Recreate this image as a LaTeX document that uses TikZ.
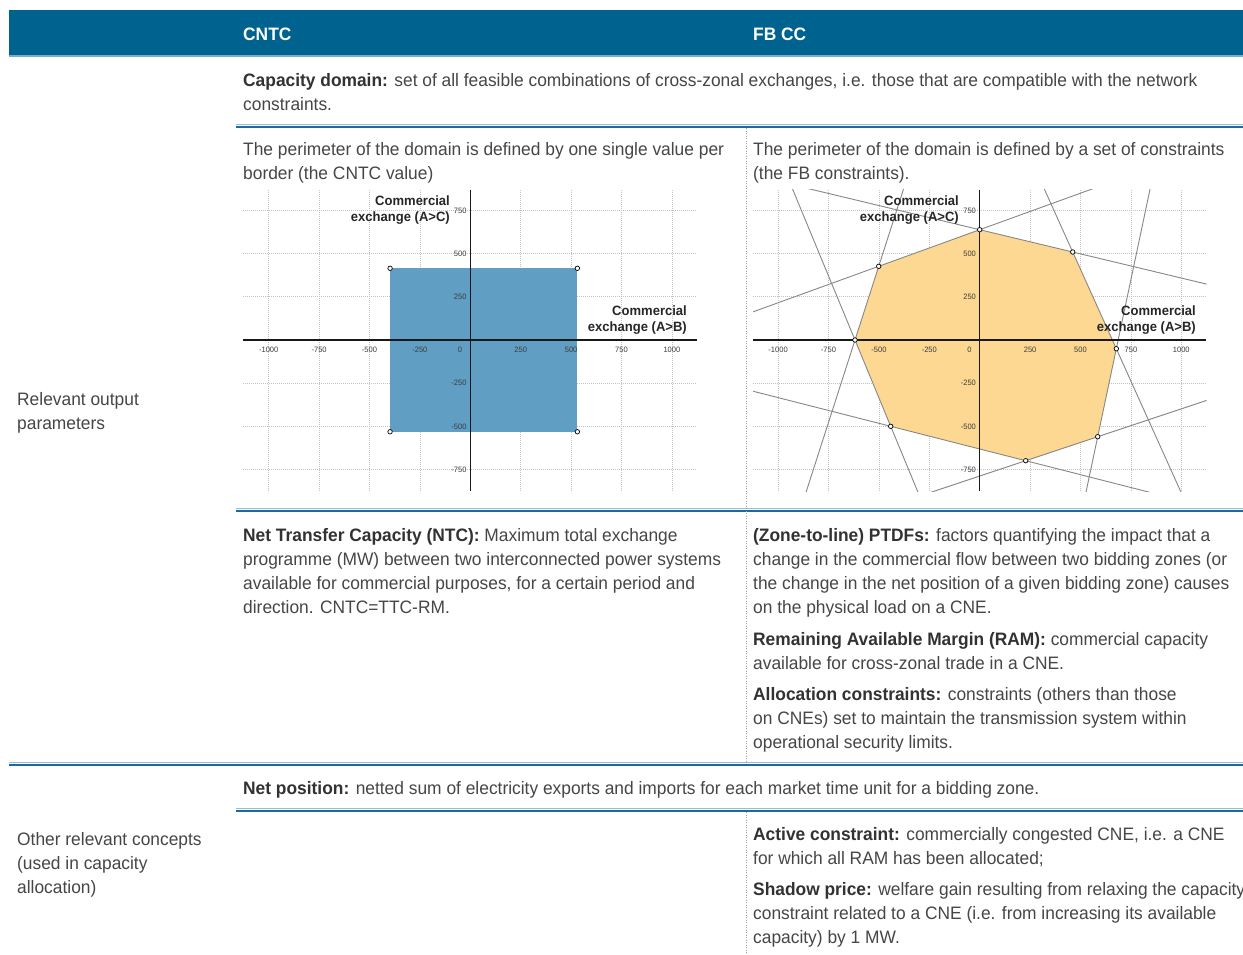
\documentclass[tikz,border=0pt]{standalone}
\usepackage{fontspec}
\setmainfont{Liberation Sans}[FakeStretch=0.965]
\usetikzlibrary{calc}
\definecolor{headblue}{RGB}{0,98,143}
\definecolor{headlight}{RGB}{120,172,205}
\definecolor{rulecol}{RGB}{28,106,156}
\definecolor{rulelight}{RGB}{150,190,218}
\definecolor{txtgray}{RGB}{70,70,70}
\definecolor{boldgray}{RGB}{50,50,50}
\definecolor{tickgray}{RGB}{60,60,60}
\definecolor{gridgray}{RGB}{195,195,195}
\definecolor{rectblue}{RGB}{96,158,196}
\definecolor{octfill}{RGB}{253,216,146}
\definecolor{conline}{RGB}{135,135,135}
\newcommand{\kw}[1]{{\bfseries\color{boldgray}#1}}
\newcommand{\chartgrid}{%
  \foreach \v in {-1000,-750,-500,-250,250,500,750,1000}
    \draw[gridln] (\v,868) -- (\v,-874);
  \foreach \v in {-750,-500,-250,250,500,750}
    \draw[gridln] (-1127,\v) -- (1124,\v);
}
\newcommand{\chartaxes}{%
  \draw[axisln] (-1127,0) -- (1124,0);
  \draw[axisln] (0,868) -- (0,-874);
  \foreach \v in {-1000,-750,-500,-250,250,500,750,1000}
    \node[tick] at (\v,-58) {\v};
  \node[tick,anchor=east] at (-40,-58) {0};
  \foreach \v in {-750,-500,-250,250,500,750}
    \node[tick,anchor=east] at (-18,\v) {\v};
}
\begin{document}
\begin{tikzpicture}[x=1pt,y=-1pt,
  txt/.style={anchor=base west, inner sep=0pt, align=left, font=\fontsize{18}{24}\selectfont, text=txtgray},
  headtxt/.style={anchor=base west, inner sep=0pt, font=\bfseries\fontsize{18}{24}\selectfont, text=white},
  tick/.style={font=\fontsize{7.8}{8}\selectfont, text=tickgray, inner sep=0pt},
  axlab/.style={font=\bfseries\fontsize{13.5}{16.5}\selectfont, align=right, anchor=base east, inner sep=0pt, text=black!85},
  rule/.style={draw=rulecol, line width=2pt},
  rulel/.style={draw=rulelight, line width=1pt},
  divider/.style={draw=gray!75, dash pattern=on 1pt off 1.5pt, line width=0.8pt},
  gridln/.style={draw=gridgray, dash pattern=on 1pt off 1pt, line width=0.8pt},
  axisln/.style={draw=black!90, line width=1.5pt},
  vtx/.style={circle, draw=black, fill=white, line width=0.7pt, inner sep=0pt, minimum size=4.5pt},
  conl/.style={draw=conline, line width=0.9pt}]
\useasboundingbox (0,0) rectangle (1243,954);
\fill[white] (0,0) rectangle (1243,954);

% header
\fill[headblue] (9,10) rectangle (1243,56);
\draw[headlight, line width=1.5pt] (9,56) -- (1243,56);
\node[headtxt] (hcntc) at (243,40) {CNTC};
\node[headtxt] (hfb) at (753,40) {FB CC};

% rules
\draw[rulel] (236,124.5) -- (1243,124.5);
\draw[rule] (236,126.5) -- (1243,126.5);
\draw[rulel] (236,508.5) -- (1243,508.5);
\draw[rule] (236,510.5) -- (1243,510.5);
\draw[rulel] (9,762.5) -- (1243,762.5);
\draw[rule] (9,764.5) -- (1243,764.5);
\draw[rulel] (236,808.5) -- (1243,808.5);
\draw[rule] (236,810.5) -- (1243,810.5);

% dividers
\draw[divider] (746,128) -- (746,762);
\draw[divider] (746,812) -- (746,954);

% row labels (base = last line)
\node[txt] (rop) at (17,429) {Relevant output\\parameters};
\node[txt] (orc) at (17,893) {Other relevant concepts\\(used in capacity\\allocation)};

% texts (base = last line)
\node[txt] (capdom) at (243,110) {\kw{Capacity domain:} set of all feasible combinations of cross-zonal exchanges, i.e. those that are compatible with the network\\constraints.};
\node[txt] (perl) at (243,179) {The perimeter of the domain is defined by one single value per\\border (the CNTC value)};
\node[txt] (perr) at (753,179) {The perimeter of the domain is defined by a set of constraints\\(the FB constraints).};
\node[txt] (ntc) at (243,613) {\kw{Net Transfer Capacity (NTC):} Maximum total exchange\\programme (MW) between two interconnected power systems\\available for commercial purposes, for a certain period and\\direction. CNTC=TTC-RM.};
\node[txt] (ptdf) at (753,613) {\kw{(Zone-to-line) PTDFs:} factors quantifying the impact that a\\change in the commercial flow between two bidding zones (or\\the change in the net position of a given bidding zone) causes\\on the physical load on a CNE.};
\node[txt] (ram) at (753,669) {\kw{Remaining Available Margin (RAM):} commercial capacity\\available for cross-zonal trade in a CNE.};
\node[txt] (alloc) at (753,748) {\kw{Allocation constraints:} constraints (others than those\\on CNEs) set to maintain the transmission system within\\operational security limits.};
\node[txt] (netpos) at (243,794) {\kw{Net position:} netted sum of electricity exports and imports for each market time unit for a bidding zone.};
\node[txt] (active) at (753,864) {\kw{Active constraint:} commercially congested CNE, i.e. a CNE\\for which all RAM has been allocated;};
\node[txt] (shadow) at (753,943) {\kw{Shadow price:} welfare gain resulting from relaxing the capacity\\constraint related to a CNE (i.e. from increasing its available\\capacity) by 1 MW.};

% chart 1 (CNTC)
\begin{scope}[shift={(470.3,340)}, xscale=0.2016, yscale=-0.1728]
  \chartgrid
  \fill[rectblue] (-398,415) rectangle (531,-531);
  \chartaxes
  \node[vtx] (r1) at (-398,415) {};
  \node[vtx] (r2) at (531,415) {};
  \node[vtx] (r3) at (531,-531) {};
  \node[vtx] (r4) at (-398,-531) {};
\end{scope}
\node[axlab] (ylab1) at (450,221.5) {Commercial\\exchange (A>C)};
\node[axlab] (xlab1) at (687,331.5) {Commercial\\exchange (A>B)};

% chart 2 (FB CC)
\begin{scope}[shift={(979.7,340)}, xscale=0.2016, yscale=-0.1728]
  \chartgrid
\end{scope}
\coordinate (v1) at (979.7,229.7);
\coordinate (v2) at (1072.7,252);
\coordinate (v3) at (1116.3,348.7);
\coordinate (v4) at (1097.7,436.7);
\coordinate (v5) at (1025.7,460.7);
\coordinate (v6) at (890.7,426.3);
\coordinate (v7) at (855,340);
\coordinate (v8) at (878.7,266.3);
\fill[octfill] (v1) -- (v2) -- (v3) -- (v4) -- (v5) -- (v6) -- (v7) -- (v8) -- cycle;
\begin{scope}
  \clip (753,189) rectangle (1206.5,491);
  \foreach \a/\b in {v8/v1,v1/v2,v2/v3,v3/v4,v4/v5,v5/v6,v6/v7,v7/v8}
    \draw[conl] ($(\a)!-6!(\b)$) -- ($(\b)!-6!(\a)$);
\end{scope}
\begin{scope}[shift={(979.7,340)}, xscale=0.2016, yscale=-0.1728]
  \chartaxes
\end{scope}
\foreach \p in {v1,v2,v3,v4,v5,v6,v7,v8}
  \node[vtx] (m\p) at (\p) {};
\node[axlab] (ylab2) at (959,221.5) {Commercial\\exchange (A>C)};
\node[axlab] (xlab2) at (1196,331.5) {Commercial\\exchange (A>B)};
\end{tikzpicture}
\end{document}
